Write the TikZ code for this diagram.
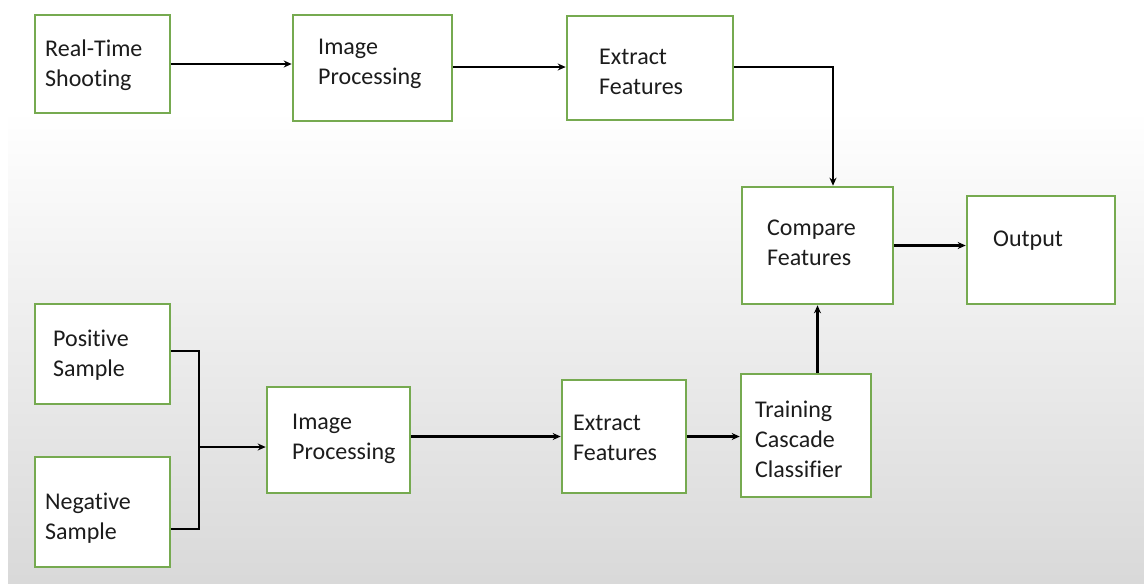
\documentclass[tikz,border=0pt]{standalone}
\usepackage{fontspec}
\setmainfont[Ligatures={NoCommon}]{Carlito}
\usetikzlibrary{arrows.meta,calc}
\definecolor{boxgreen}{RGB}{118,170,80}
\definecolor{ink}{RGB}{28,28,28}
\begin{document}
\begin{tikzpicture}[x=1pt,y=-1pt,
  stagebox/.style={draw=boxgreen,line width=2.6pt,fill=white,inner sep=0pt,
    minimum width=#1},
  lbl/.style={anchor=west,align=left,inner sep=0pt,text=ink,
    font=\fontsize{24}{30}\selectfont},
  flow/.style={draw=black,line width=2.3pt,-{Stealth[length=8pt,width=7pt]}},
  wire/.style={draw=black,line width=2.3pt}]
\useasboundingbox (0,0) rectangle (1144,584);
% page background: white top, soft grey gradient towards the bottom
\fill[white] (0,0) rectangle (1144,584);
\shade[top color=white,bottom color=gray!30] (8,110) rectangle (1144,584);

% ---- boxes (corner to corner) ----
\node[stagebox=135pt,minimum height=98pt]  (rts) at (102.5,64) {};
\node[stagebox=159pt,minimum height=106pt] (ipt) at (372.5,68) {};
\node[stagebox=166pt,minimum height=104pt] (eft) at (650,68) {};
\node[stagebox=151pt,minimum height=117pt] (cf)  at (817.5,245.5) {};
\node[stagebox=148pt,minimum height=108pt] (out) at (1041,250) {};
\node[stagebox=135pt,minimum height=100pt] (ps)  at (102.5,354) {};
\node[stagebox=135pt,minimum height=110pt] (ns)  at (102.5,512) {};
\node[stagebox=143pt,minimum height=106pt] (ipb) at (338.5,440) {};
\node[stagebox=124pt,minimum height=113pt] (efb) at (624,436.5) {};
\node[stagebox=130pt,minimum height=123pt] (tr)  at (806,435.5) {};

% ---- labels ----
\node[lbl] (trts) at (45,65)  {Real-Time\\Shooting};
\node[lbl] (tipt) at (318,64) {Image\\Processing};
\node[lbl] (teft) at (599,72) {Extract\\Features};
\node[lbl] (tcf)  at (767,243) {Compare\\Features};
\node[lbl] (tout) at (993,241) {Output};
\node[lbl] (tps)  at (53,355)  {Positive\\Sample};
\node[lbl] (tns)  at (45,518)  {Negative\\Sample};
\node[lbl] (tipb) at (292,439) {Image\\Processing};
\node[lbl] (tefb) at (573,438) {Extract\\Features};
\node[lbl] (ttr)  at (755,439) {Training\\Cascade\\Classifier};

% ---- connectors ----
\draw[flow] (rts.east) -- (ipt.west |- rts.east);
\draw[flow] ($(ipt.east)+(0,-1)$) -- ($(eft.west)+(0,-1)$);
\draw[flow] ($(eft.east)+(0,-1)$) -| ($(cf.north)+(15.5,0)$);
\draw[flow] (cf.east) -- (out.west |- cf.east);
\draw[flow] (tr.north -| cf.south) -- (cf.south);
\draw[flow] (ipb.east |- efb.west) -- (efb.west);
\draw[flow] (efb.east) -- (tr.west |- efb.east);

% two sample sets joined by a bracket, then fed to image processing
\coordinate (join) at ($(ps.east)+(28,93)$);
\draw[wire] ($(ps.east)+(0,-3)$) -| (join);
\draw[wire] ($(ns.east)+(0,17)$) -| (join);
\draw[flow] (join) -- (ipb.west |- join);
\end{tikzpicture}
\end{document}
